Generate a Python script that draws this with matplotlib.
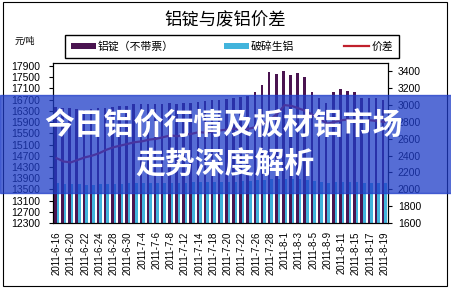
import numpy as np
import matplotlib
matplotlib.use('Agg')
import matplotlib.pyplot as plt
from matplotlib.patches import Rectangle

plt.rcParams['font.family'] = ['Liberation Sans', 'Noto Sans CJK SC', 'DejaVu Sans']

# ===== data =====
dates = ['2011-6-16', '2011-6-17', '2011-6-20', '2011-6-21', '2011-6-22', '2011-6-23',
         '2011-6-24', '2011-6-27', '2011-6-28', '2011-6-29', '2011-6-30', '2011-7-1',
         '2011-7-4', '2011-7-5', '2011-7-6', '2011-7-7', '2011-7-8', '2011-7-11',
         '2011-7-12', '2011-7-13', '2011-7-14', '2011-7-15', '2011-7-18', '2011-7-19',
         '2011-7-20', '2011-7-21', '2011-7-22', '2011-7-25', '2011-7-26', '2011-7-27',
         '2011-7-28', '2011-7-29', '2011-8-1', '2011-8-2', '2011-8-3', '2011-8-4',
         '2011-8-5', '2011-8-8', '2011-8-9', '2011-8-10', '2011-8-11', '2011-8-12',
         '2011-8-15', '2011-8-16', '2011-8-17', '2011-8-18', '2011-8-19']

ingot = [16450, 16420, 16400, 16380, 16350, 16380, 16400, 16420, 16450, 16470,
         16490, 16550, 16560, 16550, 16540, 16560, 16570, 16560, 16580, 16590,
         16610, 16640, 16680, 16700, 16740, 16760, 16790, 16820, 16970, 17220,
         17690, 17610, 17720, 17580, 17650, 17510, 16970, 16750, 16570, 16970,
         17080, 17000, 16970, 16750, 16750, 16750, 16680]

scrap = [13720, 13700, 13690, 13680, 13660, 13670, 13680, 13690, 13700, 13700,
         13710, 13720, 13730, 13720, 13720, 13730, 13740, 13730, 13740, 13750,
         13750, 13760, 13770, 13770, 13780, 13780, 13790, 13800, 13820, 13840,
         13880, 13860, 13880, 13860, 13870, 13850, 13800, 13760, 13720, 13760,
         13780, 13770, 13760, 13740, 13740, 13740, 13730]

spread = [2370, 2330, 2320, 2350, 2380, 2400, 2430, 2470, 2500, 2520,
          2540, 2560, 2570, 2590, 2600, 2620, 2640, 2630, 2650, 2660,
          2680, 2670, 2690, 2700, 2710, 2720, 2700, 2720, 2740, 2780,
          2830, 2900, 3000, 2990, 2960, 2930, 2880, 2830, 2780, 2800,
          2820, 2830, 2810, 2800, 2820, 2810, 2800]

left_ticks = list(range(12300, 17901, 400))
right_ticks = list(range(1600, 3401, 200))

# ===== figure =====
W, H = 452, 290
fig = plt.figure(figsize=(W / 100, H / 100), dpi=100)
fig.patch.set_facecolor('white')

def fx(px): return px / W
def fy(py): return 1 - py / H

ax = fig.add_axes([fx(53), fy(223), fx(388) - fx(53), fy(63) - fy(223)])
x = np.arange(len(dates))
bw = 0.36
b1 = ax.bar(x - 0.18, ingot, bw, color='#4a1450', label='铝锭（不带票）', zorder=2)
b2 = ax.bar(x + 0.18, scrap, bw, color='#42b4dc', label='破碎生铝', zorder=2)
ax.set_ylim(12300, 18010)
ax.set_xlim(-0.5, len(dates) - 0.5)
ax.set_yticks(left_ticks)
ax.set_xticks(x[::2])
ax.set_xticklabels(dates[::2], rotation=90, fontsize=7)
ax.tick_params(axis='x', length=0, pad=6)
ax.tick_params(axis='y', direction='out', length=3, width=0.8, labelsize=7.5, pad=6)
for s in ax.spines.values():
    s.set_linewidth(0.8)
    s.set_color('black')

ax2 = ax.twinx()
l1, = ax2.plot(x, spread, color='#c0202c', lw=1.6, label='价差', zorder=3)
ax2.set_ylim(1600, 3500)
ax2.set_yticks(right_ticks)
ax2.tick_params(axis='y', direction='out', length=3, width=0.8, labelsize=7.5, pad=4)

# title, unit, legend
fig.text(fx(225), fy(20), '铝锭与废铝价差', ha='center', va='center', fontsize=12.5)
fig.text(fx(15), fy(41.5), '元/吨', ha='left', va='center', fontsize=6.5)
fig.legend(handles=[b1, b2, l1], labels=['铝锭（不带票）', '破碎生铝', '价差'],
           loc='center', bbox_to_anchor=(fx(232), fy(46.5)), ncol=3, frameon=True,
           fancybox=False, edgecolor='black', framealpha=1, fontsize=7.8,
           handlelength=2.3, handleheight=0.6, handletextpad=0.2,
           columnspacing=4.6, borderpad=0.55, borderaxespad=0)

# outer frame of the chart
fig.add_artist(Rectangle((fx(3), fy(286)), fx(447) - fx(3), fy(2) - fy(286),
                         transform=fig.transFigure, fill=False, ec='black', lw=0.8))

# blue banner with headline
fig.add_artist(Rectangle((0, fy(193)), 1, fy(95) - fy(193), transform=fig.transFigure,
                         color=(30 / 255, 60 / 255, 200 / 255), alpha=0.75, zorder=10))
fig.text(fx(224), fy(126), '今日铝价行情及板材铝市场', ha='center', va='center',
         fontsize=21.5, color='white', fontweight='heavy', zorder=11,
         family=['Noto Sans CJK SC', 'DejaVu Sans'])
fig.text(fx(225), fy(165), '走势深度解析', ha='center', va='center',
         fontsize=21.5, color='white', fontweight='heavy', zorder=11,
         family=['Noto Sans CJK SC', 'DejaVu Sans'])

fig.savefig('out.png', dpi=100)
